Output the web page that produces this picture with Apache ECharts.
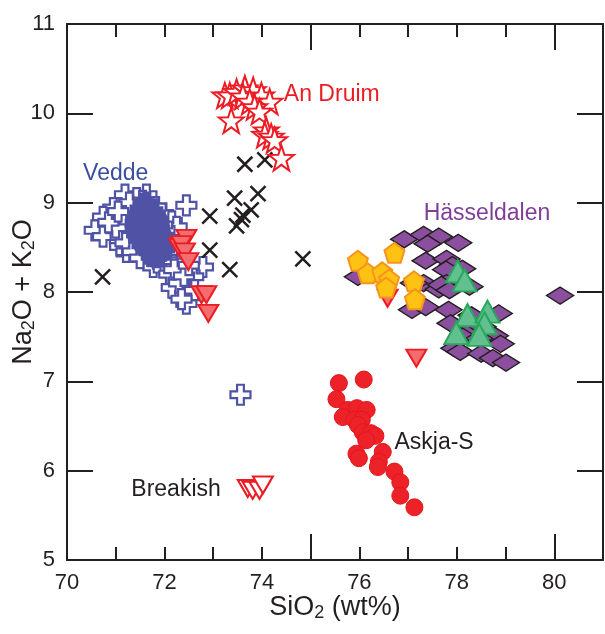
<!DOCTYPE html>
<html>
<head>
<meta charset="utf-8">
<script src="https://cdn.jsdelivr.net/npm/echarts@6/dist/echarts.min.js"></script>
<style>html,body{margin:0;padding:0;background:#fff}#c{width:605px;height:634px}</style>
</head>
<body>
<div id="c"></div>
<script>
// ---- data (SiO2 wt%, Na2O+K2O wt%) ----
var vedde = [[71.19,9.09],[71.63,9.09],[71.43,9.05],[71.55,9.02],[70.95,8.94],[70.74,8.84],[70.57,8.69],[71.05,8.77],[70.95,8.66],[70.74,8.62],[71.09,8.51],[71.22,8.45],[71.97,8.88],[72.15,8.79],[72.25,8.73],[72.45,8.97],[71.63,8.40],[71.77,8.28],[71.97,8.30],[72.18,8.36],[72.32,8.26],[72.25,8.15],[72.38,8.06],[72.32,7.97],[72.45,7.87],[72.79,8.28],[72.59,8.17],[72.62,8.02],[73.56,6.85],
[71.3,8.95],[71.4,8.9],[71.5,8.92],[71.6,8.95],[71.7,8.93],[71.8,8.85],[71.35,8.8],[71.45,8.82],[71.55,8.8],[71.65,8.82],[71.75,8.78],[71.85,8.75],[71.25,8.7],[71.4,8.7],[71.5,8.68],[71.6,8.7],[71.7,8.68],[71.8,8.65],[71.9,8.62],[71.3,8.6],[71.45,8.58],[71.55,8.6],[71.65,8.57],[71.75,8.55],[71.85,8.52],[71.95,8.5],[71.4,8.5],[71.5,8.48],[71.6,8.45],[71.7,8.45],[71.8,8.42],[71.9,8.4],[72.05,8.45],[72.1,8.6],[72.0,8.7],[71.15,8.85],[71.1,8.62],[71.0,8.72],[70.85,8.78],[71.2,8.55],[71.35,8.45],[71.5,8.38],[71.85,8.33],[72.05,8.35],[72.1,8.2],[72.2,8.25],[72.15,8.05],[72.3,8.1],[72.4,8.18],[72.5,8.3],[72.35,7.92],[71.58,8.85],[71.68,8.62],[71.62,8.52],[71.52,8.74],[71.72,8.88],[71.82,8.95],[71.95,8.75],[71.28,9.0],[71.05,8.9]];
var veddeCore = [[71.57,8.99],[71.64,9.0],
[71.51,8.93],[71.59,8.92],[71.67,8.93],[71.75,8.91],
[71.47,8.87],[71.55,8.88],[71.62,8.86],[71.71,8.88],[71.79,8.86],
[71.42,8.82],[71.51,8.81],[71.58,8.83],[71.67,8.81],[71.74,8.83],[71.82,8.81],
[71.41,8.77],[71.49,8.75],[71.56,8.77],[71.65,8.75],[71.73,8.77],[71.81,8.75],[71.88,8.76],
[71.42,8.71],[71.49,8.69],[71.57,8.71],[71.64,8.69],[71.72,8.71],[71.81,8.69],[71.89,8.70],
[71.44,8.65],[71.52,8.63],[71.61,8.65],[71.68,8.63],[71.77,8.65],[71.84,8.63],[71.91,8.64],[71.97,8.62],
[71.48,8.59],[71.57,8.57],[71.64,8.59],[71.73,8.57],[71.8,8.59],[71.88,8.57],[71.94,8.58],[72.0,8.55],
[71.55,8.53],[71.62,8.51],[71.71,8.53],[71.78,8.51],[71.87,8.53],[71.94,8.51],[71.99,8.48],
[71.63,8.47],[71.7,8.45],[71.79,8.47],[71.86,8.45],[71.93,8.46],
[71.74,8.40],[71.83,8.39],[71.92,8.40]];
var crosses = [[73.65,9.43],[74.06,9.48],[73.44,9.05],[73.92,9.10],[72.93,8.85],[73.61,8.86],[73.78,8.92],[73.48,8.74],[73.58,8.81],[72.93,8.47],[73.34,8.25],[74.84,8.37],[70.73,8.17]];
var anDruim = [[73.24,10.20],[73.34,10.20],[73.48,10.24],[73.65,10.28],[73.82,10.26],[73.99,10.20],[74.16,10.13],[73.61,10.19],[73.75,10.13],[73.85,10.07],[73.95,10.02],[73.37,9.92],[74.09,9.81],[74.06,9.76],[74.19,9.74],[74.26,9.70],[74.40,9.50]];
var hasseldalen = [[76.92,8.59],[77.32,8.64],[77.63,8.62],[78.03,8.55],[77.40,8.54],[77.36,8.35],[77.79,8.37],[77.91,8.30],[78.11,8.26],[77.78,8.25],[75.97,8.17],[77.32,8.10],[77.63,8.03],[77.79,8.10],[77.68,8.08],[77.85,8.02],[78.26,8.06],[77.12,8.10],[77.08,7.80],[77.36,7.83],[77.83,7.80],[77.87,7.65],[78.30,7.74],[78.86,7.76],[78.22,7.56],[78.53,7.61],[78.78,7.51],[78.90,7.42],[78.12,7.50],[78.46,7.48],[77.95,7.37],[78.07,7.33],[78.50,7.31],[78.74,7.26],[79.01,7.21],[80.12,7.96]];
var redTriangles = [[72.45,8.60],[72.30,8.50],[72.35,8.53],[72.42,8.45],[72.49,8.34],[72.76,7.97],[72.86,7.97],[72.90,7.76],[76.58,7.93],[77.17,7.26]];
var pentagons = [[75.97,8.35],[76.17,8.21],[76.47,8.22],[76.61,8.14],[76.55,8.05],[76.72,8.44],[77.12,8.12],[77.14,7.92]];
var greenTriangles = [[78.02,8.23],[78.16,8.13],[78.22,7.74],[78.63,7.78],[78.57,7.65],[77.99,7.54],[78.46,7.52]];
var askja = [[75.58,6.98],[76.09,7.02],[75.53,6.80],[75.76,6.68],[75.95,6.70],[76.15,6.68],[75.66,6.60],[75.90,6.57],[76.05,6.57],[75.97,6.51],[76.07,6.43],[76.24,6.42],[76.33,6.39],[76.14,6.34],[75.94,6.19],[75.99,6.14],[76.48,6.21],[76.40,6.10],[76.38,6.04],[76.72,5.99],[76.84,5.87],[76.84,5.72],[77.13,5.59]];
var breakish = [[73.71,5.80],[73.81,5.78],[73.95,5.78],[74.02,5.84]];
var labelTexts = ['An Druim','Vedde','Hässeldalen','Askja-S','Breakish'];
var labelPos = [[74.45,10.21],[70.33,9.32],[77.32,8.88],[76.72,6.31],[71.32,5.79]];
var labelColors = ['#ed1c24','#3a4da0','#7f3f98','#231f20','#231f20'];
var xTickLabels = [70,72,74,76,78,80];
var yTickLabels = [5,6,7,8,9,10,11];

var FONT = "'Liberation Sans', Arial, Helvetica, sans-serif";
var INK = '#231f20';
var VBLUE = '#5053a5';
var PLUS = 'path://M3.3,0H6.7V3.3H10V6.7H6.7V10H3.3V6.7H0V3.3H3.3Z';
var XMARK = 'path://M0,0L10,10M10,0L0,10';
var STAR = 'path://M50,0L61.76,33.82L97.55,34.55L69.02,56.18L79.39,90.45L50,70L20.61,90.45L30.98,56.18L2.45,34.55L38.24,33.82Z';
var PENT = 'path://M50,0L97.55,34.55L79.39,90.45L20.61,90.45L2.45,34.55Z';

var chart = echarts.init(document.getElementById('c'), null, {renderer:'canvas'});
var sub = {fontSize:18, lineHeight:18, verticalAlign:'bottom', padding:[16,0,0,0], fontFamily:FONT, color:INK};
var main = {fontSize:27, lineHeight:28, verticalAlign:'top', fontFamily:FONT, color:INK};

function xAxisDef(pos, interval, tickLen, showLine, showLabel){
  return {type:'value', position:pos, min:70, max:81, interval:interval,
    axisLine:{show:showLine, onZero:false, lineStyle:{color:INK, width:2}},
    axisTick:{show:true, inside:true, length:tickLen, lineStyle:{color:INK, width:2}},
    axisLabel:{show:showLabel, margin:12, fontSize:22, color:INK, fontFamily:FONT,
      formatter:function(v){ return xTickLabels.indexOf(v) >= 0 ? String(v) : ''; }},
    splitLine:{show:false}};
}
function yAxisDef(pos, tickLen, showLabel){
  return {type:'value', position:pos, min:5, max:11, interval:1,
    axisLine:{show:true, onZero:false, lineStyle:{color:INK, width:2}},
    axisTick:{show:true, inside:true, length:tickLen, lineStyle:{color:INK, width:2}},
    axisLabel:{show:showLabel, margin:12, fontSize:22, color:INK, fontFamily:FONT,
      formatter:function(v){ return yTickLabels.indexOf(v) >= 0 ? String(v) : ''; }},
    splitLine:{show:false}};
}
var xMain = xAxisDef('bottom', 1, 13, true, true);
xMain.name = '{m|SiO}{s|2}{m| (wt%)}';
xMain.nameLocation = 'middle';
xMain.nameGap = 34;
xMain.nameMoveOverlap = false;
xMain.nameTextStyle = {rich:{m:main, s:sub}};
var yMain = yAxisDef('left', 26, true);
yMain.name = '{m|Na}{s|2}{m|O + K}{s|2}{m|O}';
yMain.nameLocation = 'middle';
yMain.nameGap = 29;
yMain.nameMoveOverlap = false;
yMain.nameTextStyle = {rich:{m:main, s:sub}};

var option = {
  animation:false,
  backgroundColor:'#fff',
  grid:{left:67, right:2, top:24, bottom:74, containLabel:false, outerBoundsMode:'none'},
  xAxis:[xMain, xAxisDef('bottom',5,26,false,false), xAxisDef('top',1,13,true,false), xAxisDef('top',5,26,false,false)],
  yAxis:[yMain, yAxisDef('right',26,false)],
  series:[
    {type:'scatter', name:'Vedde', data:vedde, symbol:PLUS, symbolSize:20,
      itemStyle:{color:'#ffffff', borderColor:VBLUE, borderWidth:2.2, opacity:1}},
    {type:'scatter', name:'Vedde core', data:veddeCore, symbol:PLUS, symbolSize:20,
      itemStyle:{color:VBLUE, borderColor:VBLUE, borderWidth:2.2, opacity:1}},
    {type:'scatter', name:'Other', data:crosses, symbol:XMARK, symbolSize:15,
      itemStyle:{color:'transparent', borderColor:INK, borderWidth:2.5, opacity:1}},
    {type:'scatter', name:'An Druim', data:anDruim, symbol:STAR, symbolSize:25,
      itemStyle:{color:'#ffffff', borderColor:'#ed1c24', borderWidth:2, opacity:1}},
    {type:'scatter', name:'Hasseldalen', data:hasseldalen, symbol:'diamond', symbolSize:[27,17],
      itemStyle:{color:'#8c4f9f', borderColor:INK, borderWidth:1.5, opacity:1}},
    {type:'scatter', name:'Red triangles', data:redTriangles, symbol:'triangle', symbolRotate:180, symbolSize:[20,17],
      itemStyle:{color:'#f26d6d', borderColor:'#ed1c24', borderWidth:2, opacity:1}},
    {type:'scatter', name:'Pentagons', data:pentagons, symbol:PENT, symbolSize:20,
      itemStyle:{color:'#fec312', borderColor:'#f7941d', borderWidth:2, opacity:1}},
    {type:'scatter', name:'Green', data:greenTriangles, symbol:'triangle', symbolSize:[24,22],
      itemStyle:{color:'#62bf90', borderColor:'#27a85a', borderWidth:2, opacity:1}},
    {type:'scatter', name:'Askja-S', data:askja, symbol:'circle', symbolSize:17,
      itemStyle:{color:'#ec2228', borderColor:'#e3161d', borderWidth:1, opacity:1}},
    {type:'scatter', name:'Breakish', data:breakish, symbol:'triangle', symbolRotate:180, symbolSize:[20,17],
      itemStyle:{color:'#ffffff', borderColor:'#ed1c24', borderWidth:2, opacity:1}},
    {type:'scatter', name:'labels', symbolSize:0, silent:true, itemStyle:{opacity:1},
      data: labelTexts.map(function(t,i){ return {value:labelPos[i], name:t,
        label:{show:true, position:'right', distance:0, formatter:t, color:labelColors[i], fontSize:23, fontFamily:FONT, opacity:1}}; })}
  ]
};
chart.setOption(option);
</script>
</body>
</html>
